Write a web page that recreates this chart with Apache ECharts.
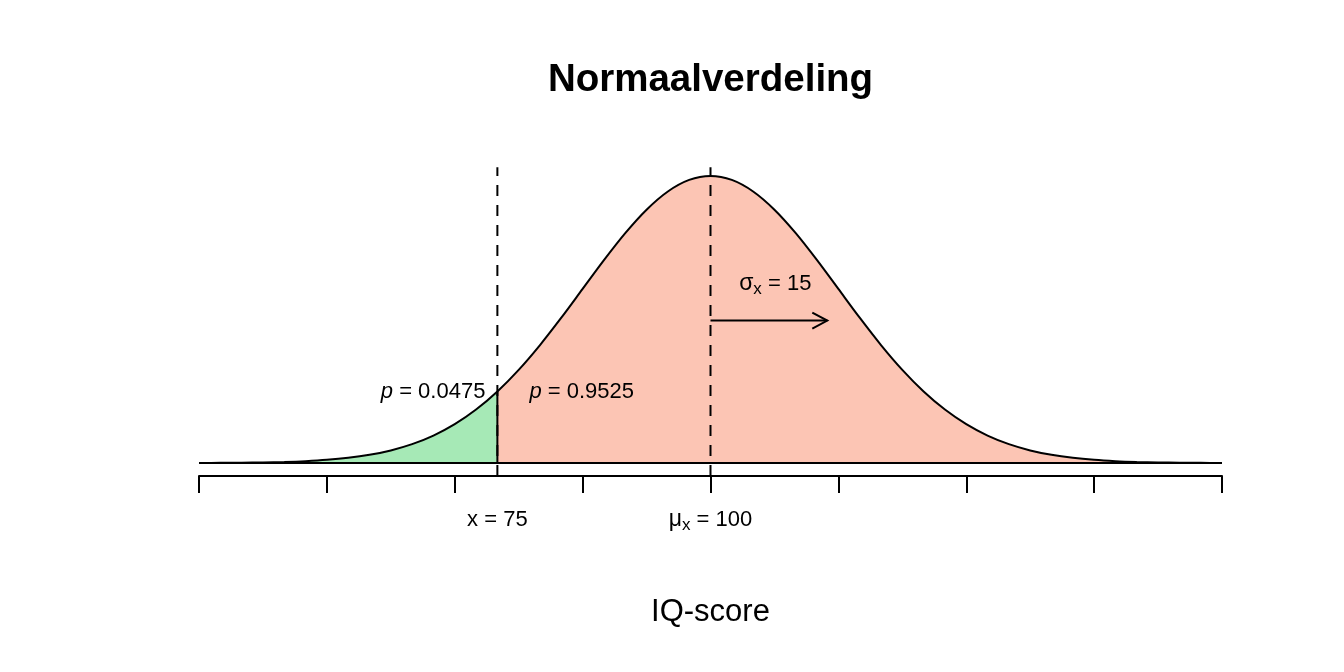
<!DOCTYPE html>
<html>
<head>
<meta charset="utf-8">
<script src="https://cdn.jsdelivr.net/npm/echarts@6/dist/echarts.min.js"></script>
<style>html,body{margin:0;padding:0;background:#fff}#c{width:1344px;height:672px}</style>
</head>
<body>
<div id="c"></div>
<script>
// IQ-score grid (step 2.5) and normal density (mean 100, sd 15)
const iq = [40, 42.5, 45, 47.5, 50, 52.5, 55, 57.5, 60, 62.5, 65, 67.5, 70, 72.5, 75, 77.5, 80, 82.5, 85, 87.5, 90, 92.5, 95, 97.5, 100,
  102.5, 105, 107.5, 110, 112.5, 115, 117.5, 120, 122.5, 125, 127.5, 130, 132.5, 135, 137.5, 140, 142.5, 145, 147.5, 150, 152.5, 155, 157.5, 160];
const density = [0.0000089, 0.0000171, 0.0000320, 0.0000582, 0.000103, 0.000177, 0.000295, 0.000481, 0.000760, 0.001169, 0.001748, 0.002543,
  0.003599, 0.004954, 0.006632, 0.008634, 0.010934, 0.013466, 0.016131, 0.018795, 0.021297, 0.023471, 0.025159, 0.026229, 0.026596,
  0.026229, 0.025159, 0.023471, 0.021297, 0.018795, 0.016131, 0.013466, 0.010934, 0.008634, 0.006632, 0.004954, 0.003599, 0.002543,
  0.001748, 0.001169, 0.000760, 0.000481, 0.000295, 0.000177, 0.000103, 0.0000582, 0.0000320, 0.0000171, 0.0000089];
const xTicks = [40, 55, 70, 85, 100, 115, 130, 145, 160];
const cutoff = 75;
const mean = 100;
const sdArrowEnd = 113.7;
const pLeft = '0.0475';
const pRight = '0.9525';
const titleText = 'Normaalverdeling';
const xName = 'IQ-score';

const cutIdx = iq.indexOf(cutoff);
const curve = iq.map((x, i) => [x, density[i]]);
const leftPart = curve.slice(0, cutIdx + 1);
const rightPart = curve.slice(cutIdx);

const FONT = '"Liberation Sans", Arial, Helvetica, sans-serif';
const SMOOTH = 0.3;
const yMin = -0.0012, yMax = 0.029;
const dashTop = 0.0274;

const chart = echarts.init(document.getElementById('c'));
const option = {
  animation: false,
  backgroundColor: '#ffffff',
  grid: { left: 199, right: 122, top: 150, bottom: 196, containLabel: false },
  xAxis: {
    type: 'value', min: xTicks[0], max: xTicks[xTicks.length - 1], interval: xTicks[1] - xTicks[0],
    axisLine: { show: true, onZero: false, lineStyle: { color: '#000', width: 2 } },
    axisTick: { show: true, length: 17, lineStyle: { color: '#000', width: 2 } },
    axisLabel: { show: false },
    splitLine: { show: false }
  },
  yAxis: { type: 'value', min: yMin, max: yMax, show: false, splitLine: { show: false } },
  series: [
    { type: 'line', data: leftPart, smooth: SMOOTH, symbol: 'none', lineStyle: { width: 0, opacity: 0 },
      areaStyle: { color: '#a6e9b6', opacity: 1, origin: 0 }, z: 1 },
    { type: 'line', data: rightPart, smooth: SMOOTH, symbol: 'none', lineStyle: { width: 0, opacity: 0 },
      areaStyle: { color: '#fcc5b4', opacity: 1, origin: 0 }, z: 1 },
    { type: 'line', data: curve, smooth: SMOOTH, symbol: 'none', lineStyle: { color: '#000', width: 2 }, z: 3 },
    { type: 'line', data: [[iq[0], 0], [iq[iq.length - 1], 0]], symbol: 'none', lineStyle: { color: '#000', width: 2 }, z: 3 },
    { type: 'line', data: [[cutoff, 0], [cutoff, density[cutIdx]]], symbol: 'none', lineStyle: { color: '#000', width: 2 }, z: 3 },
    { type: 'line', data: [[cutoff, yMin], [cutoff, dashTop]], symbol: 'none', lineStyle: { color: '#000', width: 2, type: [11, 9] }, z: 4 },
    { type: 'line', data: [[mean, yMin], [mean, dashTop]], symbol: 'none', lineStyle: { color: '#000', width: 2, type: [11, 9] }, z: 4 },
    { type: 'custom', data: [[mean, sdArrowEnd, 0.0132]], z: 5,
      renderItem: function (params, api) {
        const a = api.coord([api.value(0), api.value(2)]);
        const b = api.coord([api.value(1), api.value(2)]);
        const st = { stroke: '#000', lineWidth: 2, fill: null };
        return { type: 'group', children: [
          { type: 'line', shape: { x1: a[0], y1: a[1], x2: b[0], y2: b[1] }, style: st },
          { type: 'polyline', shape: { points: [[b[0] - 15, b[1] - 8], [b[0], b[1]], [b[0] - 15, b[1] + 8]] }, style: st }
        ]};
      }
    }
  ]
};
chart.setOption(option);

function px(x, y) { return chart.convertToPixel({ gridIndex: 0 }, [x, y]); }
function richStyle(text, extra) {
  return Object.assign({
    text: text, fontFamily: FONT, fontSize: 22, fill: '#000',
    rich: {
      i: { fontStyle: 'italic', fontSize: 22, fontFamily: FONT },
      g: { fontSize: 23, fontFamily: FONT },
      s: { fontSize: 17, fontFamily: FONT, padding: [10, 0, 0, 0] },
      n: { fontSize: 22, fontFamily: FONT }
    }
  }, extra);
}
const pMean = px(mean, 0);
const pCut = px(cutoff, 0);
const pSig = px(107.6, 0.0166);
const pLab = px(cutoff, 0.0066);

chart.setOption({
  graphic: [
    { type: 'text', z: 100, x: pMean[0], y: 80, style: { text: titleText, fontFamily: FONT, fontWeight: 'bold', fontSize: 38.5, fill: '#000', align: 'center', verticalAlign: 'middle' } },
    { type: 'text', z: 100, x: pMean[0], y: 612, style: { text: xName, fontFamily: FONT, fontSize: 31, fill: '#000', align: 'center', verticalAlign: 'middle' } },
    { type: 'text', z: 100, x: pCut[0], y: 520, style: richStyle('{n|x = 75}', { align: 'center', verticalAlign: 'middle' }) },
    { type: 'text', z: 100, x: pMean[0], y: 520, style: richStyle('{g|μ}{s|x}{n| = 100}', { align: 'center', verticalAlign: 'middle' }) },
    { type: 'text', z: 100, x: pSig[0], y: pSig[1], style: richStyle('{g|σ}{s|x}{n| = 15}', { align: 'center', verticalAlign: 'middle' }) },
    { type: 'text', z: 100, x: pLab[0] - 12, y: pLab[1], style: richStyle('{i|p}{n| = ' + pLeft + '}', { align: 'right', verticalAlign: 'middle' }) },
    { type: 'text', z: 100, x: pLab[0] + 32, y: pLab[1], style: richStyle('{i|p}{n| = ' + pRight + '}', { align: 'left', verticalAlign: 'middle' }) }
  ]
});
</script>
</body>
</html>
